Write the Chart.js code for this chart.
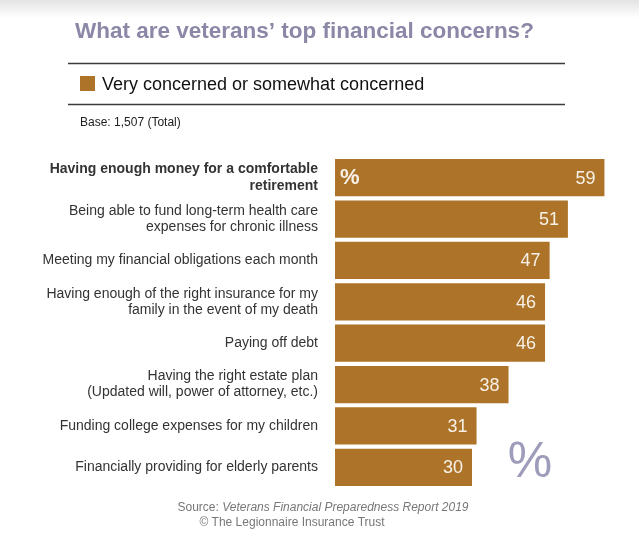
<!DOCTYPE html>
<html>
<head>
<meta charset="utf-8">
<script src="https://cdn.jsdelivr.net/npm/chart.js@4.4.1/dist/chart.umd.min.js"></script>
<style>
  html, body { margin: 0; padding: 0; background: #fff; }
  #wrap { width: 639px; height: 539px; position: relative; }
</style>
</head>
<body>
<div id="wrap"><canvas id="chart" width="639" height="539"></canvas></div>
<script>
// Chart data
const chartTitle = 'What are veterans\u2019 top financial concerns?';
const seriesLabel = 'Very concerned or somewhat concerned';
const baseNote = 'Base: 1,507 (Total)';
const categories = [
  ['Having enough money for a comfortable', 'retirement'],
  ['Being able to fund long-term health care', 'expenses for chronic illness'],
  'Meeting my financial obligations each month',
  ['Having enough of the right insurance for my', 'family in the event of my death'],
  'Paying off debt',
  ['Having the right estate plan', '(Updated will, power of attorney, etc.)'],
  'Funding college expenses for my children',
  'Financially providing for elderly parents'
];
const values = [59, 51, 47, 46, 46, 38, 31, 30];

const BAR_COLOR = '#ad7429';
const FONT = '"Liberation Sans", Arial, Helvetica, sans-serif';

// Decorations: header, legend, notes, value labels, footer
const decorPlugin = {
  id: 'decor',
  beforeDraw(chart) {
    const c = chart.ctx;
    c.save();
    // light grey shade at the top edge
    const g = c.createLinearGradient(0, 0, 0, 18);
    g.addColorStop(0, '#e4e4e4');
    g.addColorStop(1, '#ffffff');
    c.fillStyle = g;
    c.fillRect(0, 0, chart.width, 18);

    // title
    c.fillStyle = '#8b88a7';
    c.font = 'bold 22.5px ' + FONT;
    c.textAlign = 'left';
    c.textBaseline = 'alphabetic';
    c.fillText(chartTitle, 75, 38);

    // rules
    c.strokeStyle = '#3a3a3a';
    c.lineWidth = 1.5;
    c.beginPath(); c.moveTo(68, 63.5); c.lineTo(565, 63.5); c.stroke();
    c.beginPath(); c.moveTo(68, 104.5); c.lineTo(565, 104.5); c.stroke();

    // legend
    c.fillStyle = chart.data.datasets[0].backgroundColor;
    c.fillRect(80, 76, 15, 15);
    c.fillStyle = '#111';
    c.font = '18px ' + FONT;
    c.fillText(chart.data.datasets[0].label, 102, 90);

    // base note
    c.fillStyle = '#222';
    c.font = '12px ' + FONT;
    c.fillText(baseNote, 80, 126);

    // footer
    c.fillStyle = '#777';
    c.font = '12px ' + FONT;
    const s1 = 'Source: ';
    const s2 = 'Veterans Financial Preparedness Report 2019';
    const w1 = c.measureText(s1).width;
    c.font = 'italic 12px ' + FONT;
    const w2 = c.measureText(s2).width;
    let x0 = 323 - (w1 + w2) / 2;
    c.font = '12px ' + FONT;
    c.fillText(s1, x0, 511);
    c.font = 'italic 12px ' + FONT;
    c.fillText(s2, x0 + w1, 511);
    c.font = '12px ' + FONT;
    c.textAlign = 'center';
    c.fillText('\u00A9 The Legionnaire Insurance Trust', 292, 526);
    c.restore();
  },
  afterDatasetsDraw(chart) {
    const c = chart.ctx;
    const meta = chart.getDatasetMeta(0);
    c.save();
    c.textBaseline = 'middle';
    meta.data.forEach((bar, i) => {
      c.fillStyle = '#f7f1e8';
      c.font = '18px ' + FONT;
      c.textAlign = 'right';
      c.fillText(String(values[i]), bar.x - 9, bar.y + 1);
      if (i === 0) {
        c.font = 'bold 22px ' + FONT;
        c.textAlign = 'left';
        c.fillText('%', bar.base + 5, bar.y);
      }
    });
    // large percent sign
    c.fillStyle = '#9d9cbb';
    c.font = '50px ' + FONT;
    c.textAlign = 'center';
    c.textBaseline = 'alphabetic';
    c.fillText('%', 530, 477);
    c.restore();
  }
};

new Chart(document.getElementById('chart'), {
  type: 'bar',
  data: {
    labels: categories,
    datasets: [{
      label: seriesLabel,
      data: values,
      backgroundColor: BAR_COLOR,
      borderWidth: 0,
      barPercentage: 0.9,
      categoryPercentage: 1.0
    }]
  },
  options: {
    indexAxis: 'y',
    responsive: false,
    animation: false,
    devicePixelRatio: 1,
    layout: {
      padding: { top: 157, bottom: 51, left: 0, right: 30 }
    },
    scales: {
      x: {
        display: false,
        min: 0,
        max: 60
      },
      y: {
        afterFit(scale) { scale.width = 335; },
        grid: { display: false, drawTicks: false },
        border: { display: false },
        ticks: {
          padding: 17,
          color: '#333',
          font: (ctx) => ({
            family: FONT,
            size: 14,
            weight: ctx.index === 0 ? 'bold' : 'normal',
            lineHeight: 1.15
          })
        }
      }
    },
    plugins: {
      legend: { display: false },
      tooltip: { enabled: false },
      title: { display: false }
    }
  },
  plugins: [decorPlugin]
});
</script>
</body>
</html>
